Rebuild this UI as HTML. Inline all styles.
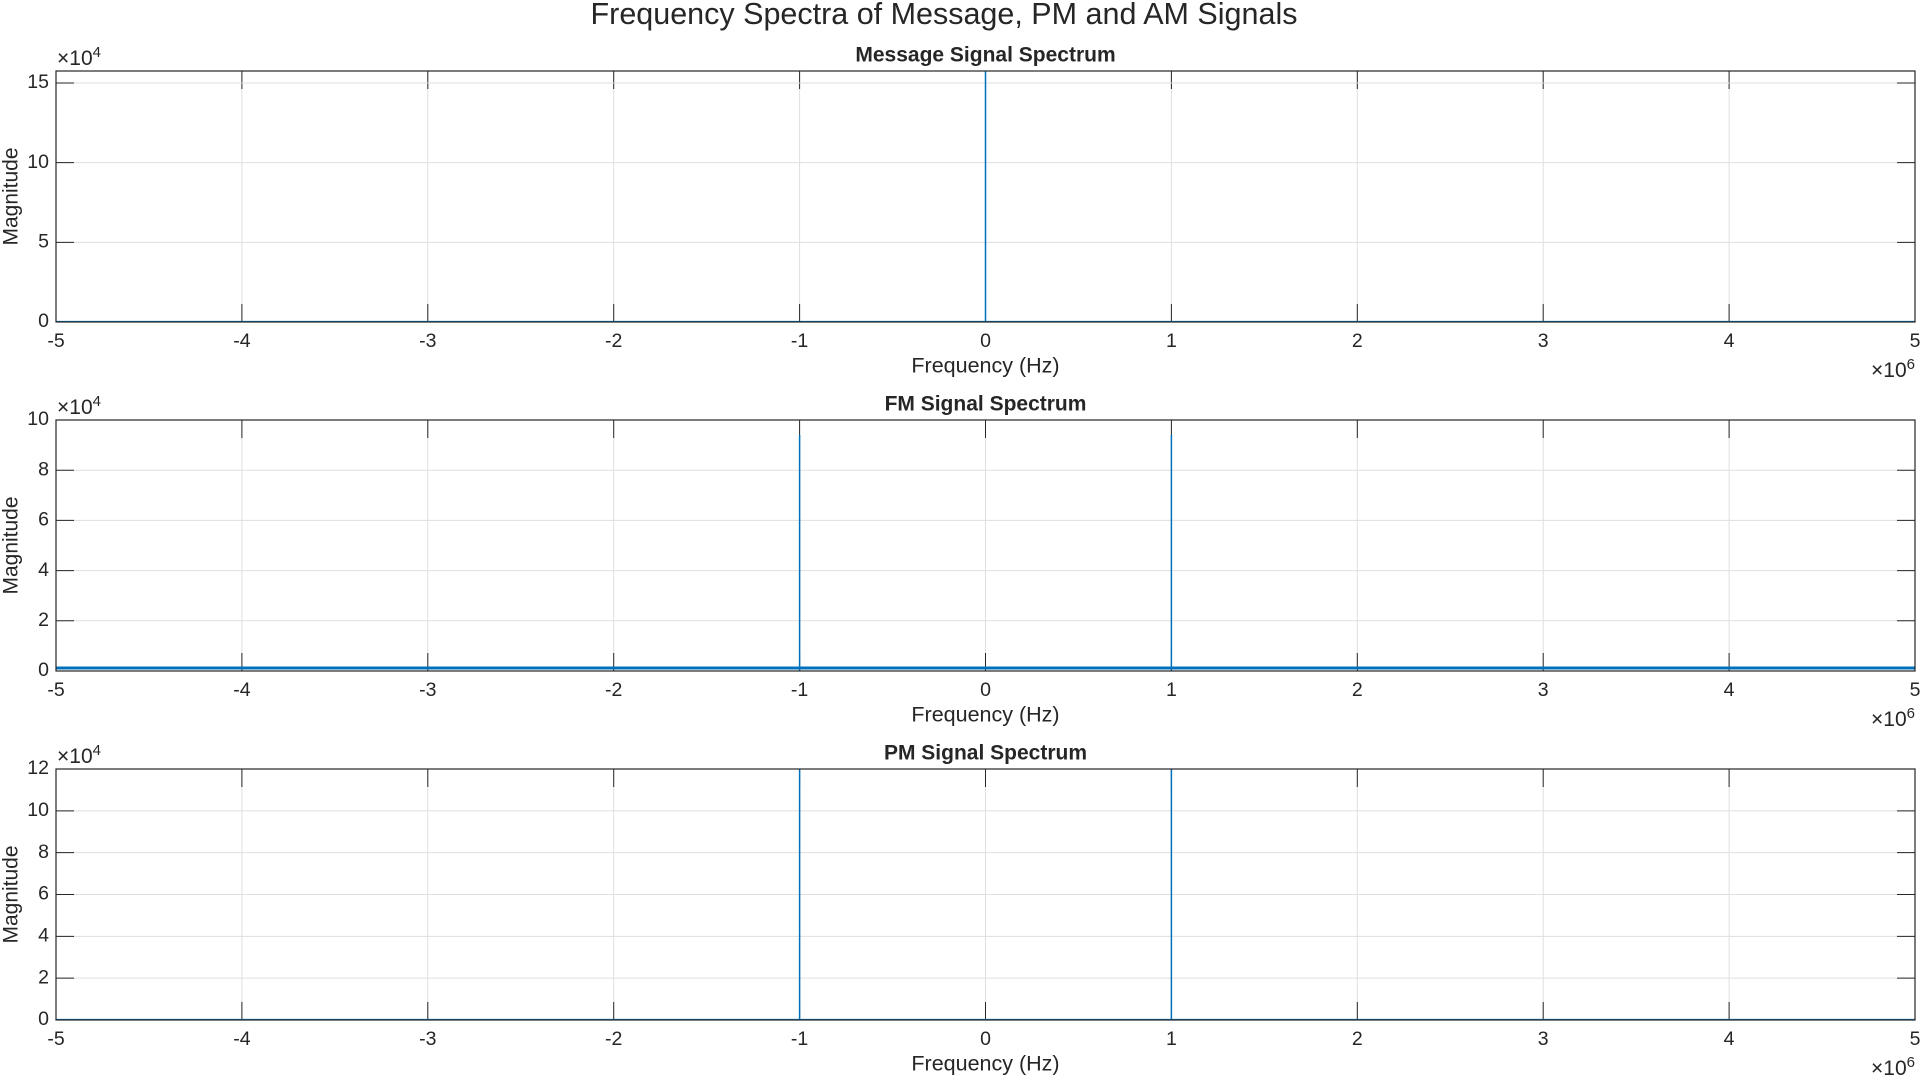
<!DOCTYPE html>
<html><head><meta charset="utf-8"><style>
body{margin:0;background:#fff;}
svg text{font-family:"Liberation Sans",Arial,sans-serif;fill:#262626;}
</style></head><body>
<svg id="fig" width="1922" height="1079" xmlns="http://www.w3.org/2000/svg">
<text x="944" y="16" font-size="30.5" text-anchor="middle" dominant-baseline="middle">Frequency Spectra of Message, PM and AM Signals</text>
</svg>
<script>
const xTicks=[-5,-4,-3,-2,-1,0,1,2,3,4,5];
const titles=["Message Signal Spectrum","FM Signal Spectrum","PM Signal Spectrum"];
const yMax=[15.75,10,12];
const yTicks=[[0,5,10,15],[0,2,4,6,8,10],[0,2,4,6,8,10,12]];
const spikeFreqs=[[0],[-1,1],[-1,1]];
const spikeMags=[[15.75],[9.4,9.4],[12,12]];
const floorMag=[0.02,0.12,0.02];
const tops=[71,420,769];
const L=56,R=1915,H=251;
const svg=document.getElementById('fig');
const NS='http://www.w3.org/2000/svg';
function mk(t,a,p){const e=document.createElementNS(NS,t);for(const k in a)e.setAttribute(k,a[k]);(p||svg).appendChild(e);return e;}
for(let i=0;i<3;i++){
  const T=tops[i],B=T+H;
  const g=mk('g',{});
  
  
  const X=v=>L+(v+5)/10*(R-L);
  const Y=v=>B-v/yMax[i]*H;
  mk('rect',{x:L,y:T,width:R-L,height:H,fill:'#fff'},g);
  xTicks.forEach(t=>{
    const x=X(t);
    mk('line',{x1:x,y1:T,x2:x,y2:B,stroke:'#dfdfdf','stroke-width':1},g);
    mk('line',{x1:x,y1:B,x2:x,y2:B-18,stroke:'#262626','stroke-width':1},g);
    mk('line',{x1:x,y1:T,x2:x,y2:T+18,stroke:'#262626','stroke-width':1},g);
    const tx=mk('text',{x:x,y:B+20,'font-size':19.5,'text-anchor':'middle','dominant-baseline':'middle'},g);
    
    
    tx.textContent=t;
  });
  yTicks[i].forEach(t=>{
    const y=Y(t);
    mk('line',{x1:L,y1:y,x2:R,y2:y,stroke:'#dfdfdf','stroke-width':1},g);
    mk('line',{x1:L,y1:y,x2:L+18,y2:y,stroke:'#262626','stroke-width':1},g);
    mk('line',{x1:R,y1:y,x2:R-18,y2:y,stroke:'#262626','stroke-width':1},g);
    const tx=mk('text',{x:L-7,y:y,'font-size':19.5,'text-anchor':'end','dominant-baseline':'middle'},g);
    
    
    tx.textContent=t;
  });
  const fl=mk('line',{x1:L,y1:Y(floorMag[i]),x2:R,y2:Y(floorMag[i]),stroke:'#0072bd','stroke-width':i==1?3:1.5},g);
  
  
  spikeFreqs[i].forEach((f,j)=>{
    const s=mk('line',{x1:X(f),y1:B,x2:X(f),y2:Y(spikeMags[i][j]),stroke:'#0072bd','stroke-width':1.5},g);
    
    
  });
  mk('rect',{x:L,y:T,width:R-L,height:H,fill:'none',stroke:'#262626','stroke-width':1.2},g);
  const ti=mk('text',{x:(L+R)/2,y:T-15,'font-size':21,'font-weight':'bold','text-anchor':'middle','dominant-baseline':'middle'},g);
  
  
  ti.textContent=titles[i];
  const xl=mk('text',{x:(L+R)/2,y:B+45,'font-size':21.5,'text-anchor':'middle','dominant-baseline':'middle'},g);
  
  
  xl.textContent='Frequency (Hz)';
  const yl=mk('text',{x:12,y:(T+B)/2,'font-size':21,'text-anchor':'middle','dominant-baseline':'middle',transform:`rotate(-90 12 ${(T+B)/2})`},g);
  
  
  yl.textContent='Magnitude';
  const ye=mk('text',{x:57,y:T-6,'font-size':21},g);
  
  
  ye.innerHTML='×10<tspan dy="-8" font-size="15">4</tspan>';
  const xe=mk('text',{x:R,y:B+55,'font-size':21,'text-anchor':'end'},g);
  
  
  xe.innerHTML='×10<tspan dy="-8" font-size="15">6</tspan>';
}
</script>
</body></html>
